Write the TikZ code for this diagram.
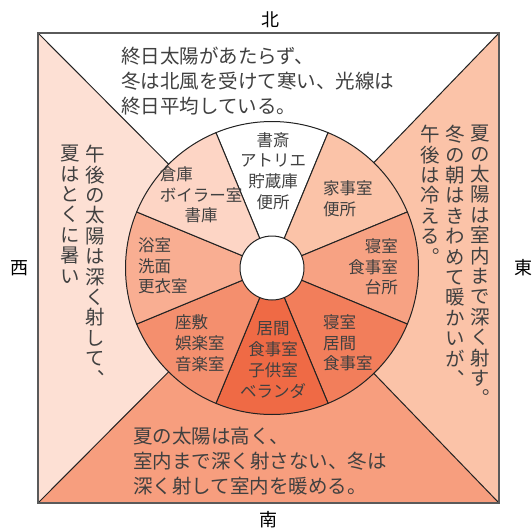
\documentclass[tikz,border=0pt]{standalone}
\usepackage{fontspec}
\setmainfont{Noto Sans CJK JP}
\newfontfamily\vjp[RawFeature=+vert]{Noto Sans CJK JP}
\ExplSyntaxOn
\NewDocumentCommand\vcol{m}{\vbox{\tl_map_inline:nn{#1}{\hbox_to_wd:nn{1em}{\hss##1\hss}}}}
\ExplSyntaxOff
\definecolor{westc}{HTML}{FDE0D4}
\definecolor{eastc}{HTML}{FBC3A8}
\definecolor{southc}{HTML}{F79E7E}
\definecolor{nwc}{HTML}{FDD5C5}
\definecolor{nec}{HTML}{FBC3A8}
\definecolor{wc}{HTML}{F9AE92}
\definecolor{ec}{HTML}{F7A283}
\definecolor{swc}{HTML}{F48F6E}
\definecolor{sec}{HTML}{F27E5B}
\definecolor{sc}{HTML}{EF6A45}
\definecolor{textc}{HTML}{404040}
\definecolor{framec}{HTML}{5A5A5A}
\definecolor{linec}{HTML}{222222}
\begin{document}
\begin{tikzpicture}[x=1pt,y=-1pt,
  txt/.style={text=textc, inner sep=0pt, font=\fontsize{19.5}{25}\selectfont, align=left, anchor=west},
  room/.style={text=textc, inner sep=0pt, font=\fontsize{16.5}{20.7}\selectfont},
  vtxt/.style={text=textc, inner sep=0pt, anchor=north, font=\fontsize{19.5}{20.4}\selectfont\vjp},
  dirlbl/.style={text=black, inner sep=0pt, font=\fontsize{18}{20}\selectfont},
  sector/.style={draw=linec, line width=1pt},
  diag/.style={draw=linec, line width=1pt},
  frame/.style={draw=framec, line width=1.5pt}]
\useasboundingbox (0,0) rectangle (532,531);
\coordinate (tl) at (38,33);
\coordinate (tr) at (499,33);
\coordinate (bl) at (38,503);
\coordinate (br) at (499,503);
\coordinate (c) at (272,268);
\fill[white] (tl)--(tr)--(c)--cycle;
\fill[westc] (tl)--(bl)--(c)--cycle;
\fill[eastc] (tr)--(br)--(c)--cycle;
\fill[southc] (bl)--(br)--(c)--cycle;
\draw[diag] (tl)--(c) (tr)--(c) (bl)--(c) (br)--(c);
\foreach \a/\col in {-90/white,-45/nec,0/ec,45/sec,90/sc,135/swc,180/wc,225/nwc}
  \filldraw[sector, fill=\col] (c) -- ++(\a-22.5:146.5) arc[start angle=\a-22.5, end angle=\a+22.5, radius=146.5] -- cycle;
\filldraw[sector, fill=white] (c) circle[radius=32];
\draw[frame] (tl) rectangle (br);
% direction labels
\node[dirlbl] (north) at (270,20) {北};
\node[dirlbl] (south) at (268,520) {南};
\node[dirlbl] (west) at (19,268) {西};
\node[dirlbl] (east) at (523,268) {東};
% outer texts
\node[txt] (ntext) at (121,81) {終日太陽があたらず、\\冬は北風を受けて寒い、光線は\\終日平均している。};
\node[txt] (stext) at (133,461) {夏の太陽は高く、\\室内まで深く射さない、冬は\\深く射して室内を暖める。};
\node[vtxt] (w1) at (95,145) {\vcol{午後の太陽は深く射して、}};
\node[vtxt] (w2) at (70,145) {\vcol{夏はとくに暑い}};
\node[vtxt] (e1) at (480,125) {\vcol{夏の太陽は室内まで深く射す。}};
\node[vtxt] (e2) at (455,125) {\vcol{冬の朝はきわめて暖かいが、}};
\node[vtxt] (e3) at (430,125) {\vcol{午後は冷える。}};
% room texts
\node[room, align=center] (rn) at (273,171) {書斎\\アトリエ\\貯蔵庫\\便所};
\node[room, align=center] (rnw) at (201,195) {\makebox[5em][l]{倉庫}\\ボイラー室\\書庫};
\node[room, align=left, anchor=west] (rne) at (323,198.5) {家事室\\便所};
\node[room, align=left, anchor=west] (rw) at (138,266) {浴室\\洗面\\更衣室};
\node[room, align=right, anchor=east] (re) at (398,267) {寝室\\食事室\\台所};
\node[room, align=left, anchor=west] (rsw) at (175,343) {座敷\\娯楽室\\音楽室};
\node[room, align=center] (rs) at (273,360) {居間\\食事室\\子供室\\ベランダ};
\node[room, align=left, anchor=west] (rse) at (323,343) {寝室\\居間\\食事室};
\end{tikzpicture}
\end{document}
